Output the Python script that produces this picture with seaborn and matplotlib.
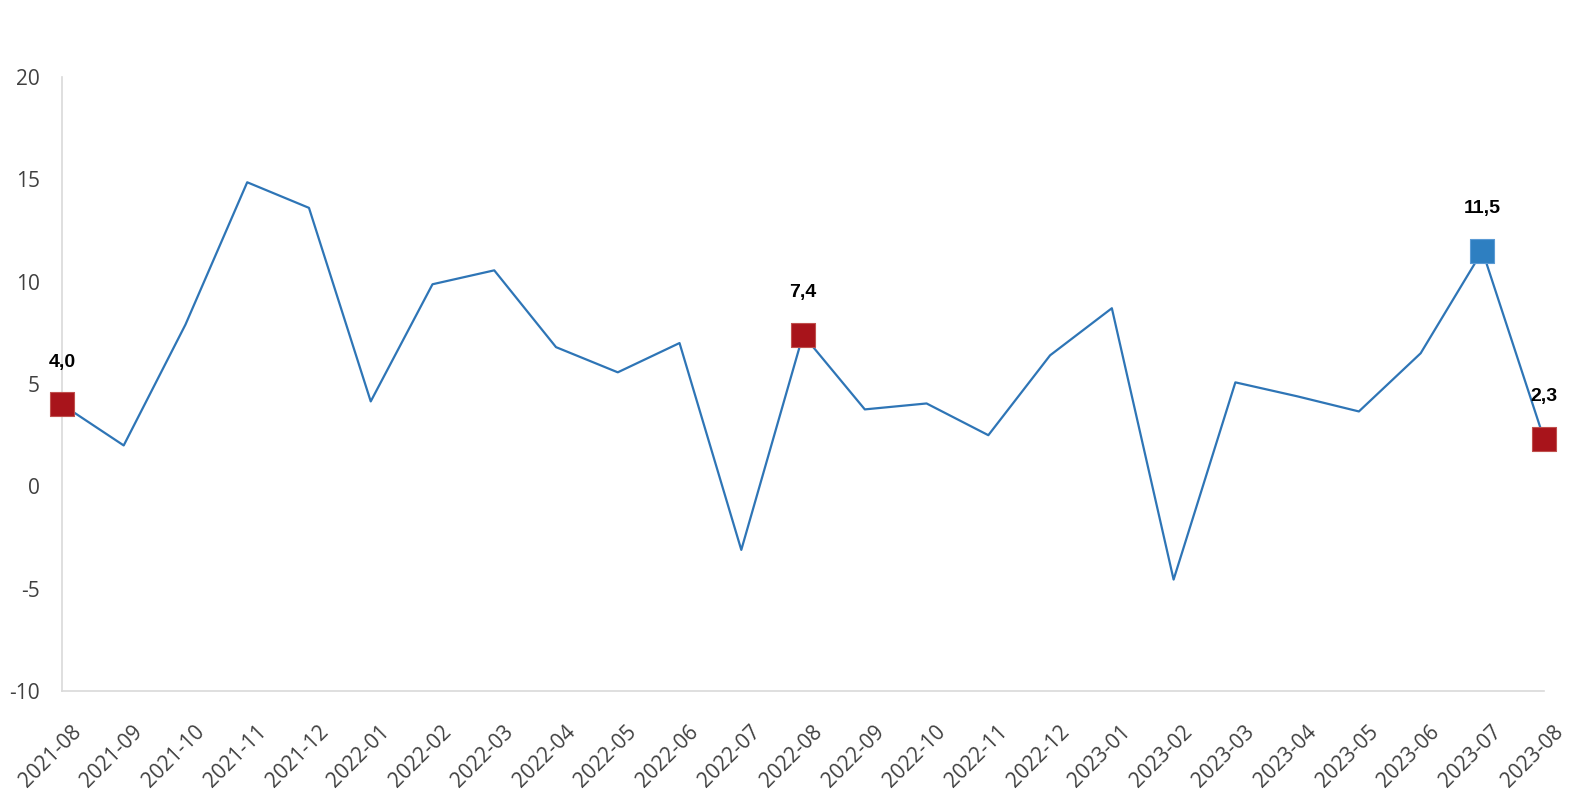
import pandas as pd
import seaborn as sns
import matplotlib.pyplot as plt
from matplotlib.transforms import ScaledTranslation

months = ["2021-08", "2021-09", "2021-10", "2021-11", "2021-12", "2022-01", "2022-02",
          "2022-03", "2022-04", "2022-05", "2022-06", "2022-07", "2022-08", "2022-09",
          "2022-10", "2022-11", "2022-12", "2023-01", "2023-02", "2023-03", "2023-04",
          "2023-05", "2023-06", "2023-07", "2023-08"]
values = [4.0, 2.0, 7.9, 14.85, 13.6, 4.15, 9.87, 10.55, 6.8, 5.57, 7.0, -3.1, 7.4,
          3.76, 4.05, 2.5, 6.4, 8.7, -4.55, 5.08, 4.4, 3.66, 6.5, 11.5, 2.3]

# highlighted points
red_idx = [0, 12, 24]
blue_idx = [23]

df = pd.DataFrame({"month": months, "value": values})
df["pos"] = range(len(df))

sns.set_style("white")
plt.rcParams['font.family'] = ['Open Sans', 'DejaVu Sans']
plt.rcParams['axes.unicode_minus'] = False

fig = plt.figure(figsize=(15.76, 8), dpi=100)
ax = fig.add_axes([0.0393, 0.136, 0.9405, 0.768])

sns.lineplot(data=df, x="pos", y="value", color="#2e75b6", linewidth=1.6, ax=ax)

red = df.iloc[red_idx]
blue = df.iloc[blue_idx]
sns.scatterplot(data=red, x="pos", y="value", marker="s", s=300, color="#a8141b",
                edgecolor="#c0504d", linewidth=0.8, zorder=5, clip_on=False, ax=ax)
sns.scatterplot(data=blue, x="pos", y="value", marker="s", s=300, color="#2e7fc1",
                edgecolor="#5b9bd5", linewidth=0.8, zorder=5, clip_on=False, ax=ax)

for i in red_idx + blue_idx:
    v = values[i]
    txt = f"{v:.1f}".replace(".", ",")
    ax.text(i, v + 1.85, txt, ha="center", va="baseline", fontsize=14,
            fontweight="bold", family=["Liberation Sans", "DejaVu Sans"], color="black")

ax.set_xlim(0, 24)
ax.set_ylim(-10, 20)
ax.set_yticks([-10, -5, 0, 5, 10, 15, 20])
ax.set_xticks(df["pos"])
ax.set_xticklabels(months, rotation=45, ha="right", va="center", rotation_mode="anchor")
ax.tick_params(axis="both", labelsize=15, colors="#404040", length=0)
ax.tick_params(axis="x", pad=27)
ax.tick_params(axis="y", pad=16)
shift = ScaledTranslation(0.16, 0, fig.dpi_scale_trans)
for lbl in ax.get_xticklabels():
    lbl.set_transform(lbl.get_transform() + shift)
ax.set_xlabel("")
ax.set_ylabel("")
ax.grid(False)

for s in ["top", "right"]:
    ax.spines[s].set_visible(False)
for s in ["left", "bottom"]:
    ax.spines[s].set_color("#d9d9d9")
    ax.spines[s].set_linewidth(1.2)

fig.savefig("out.png", dpi=100, facecolor="white")
